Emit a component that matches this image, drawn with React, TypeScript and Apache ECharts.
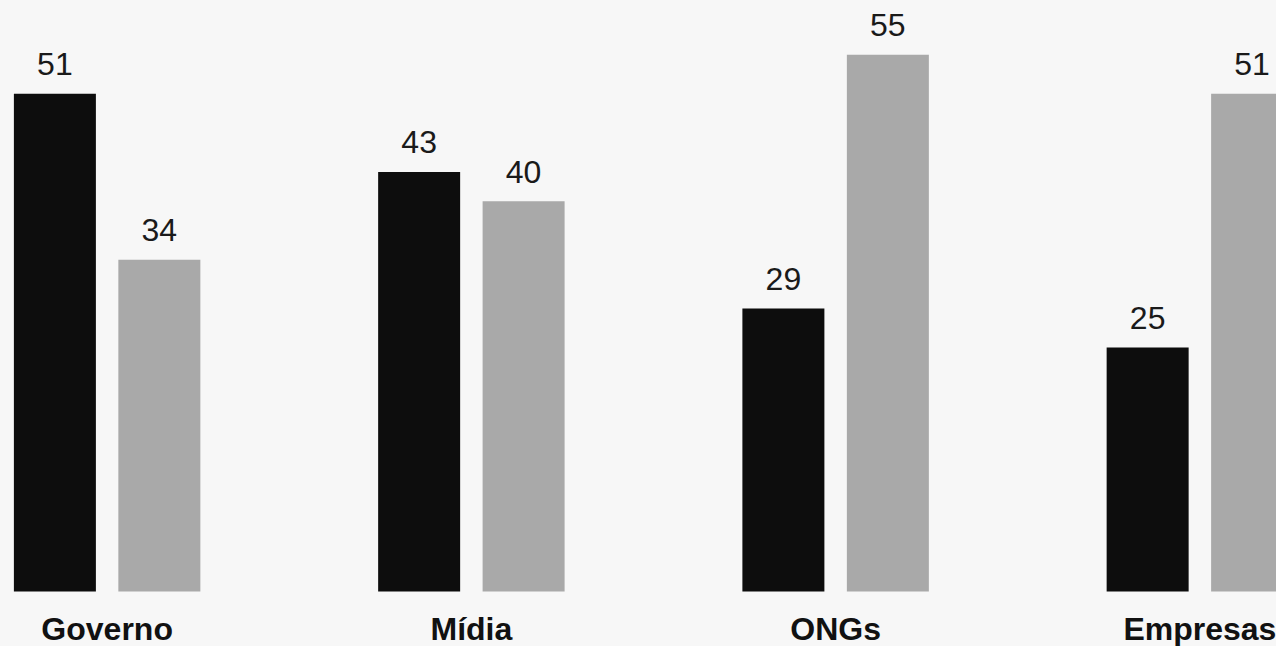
import React, { useEffect, useRef } from "react";
import * as echarts from "echarts";

const categories = ["Governo", "Mídia", "ONGs", "Empresas"];
const seriesA = [51, 43, 29, 25];
const seriesB = [34, 40, 55, 51];

export default function App() {
  const ref = useRef<HTMLDivElement>(null);
  useEffect(() => {
    if (!ref.current) return;
    const chart = echarts.init(ref.current, undefined, { renderer: "svg" });
    const labelStyle = {
      show: true,
      position: "top" as const,
      distance: 13.5,
      fontSize: 32,
      color: "#1a1a1a",
      fontFamily: "Liberation Sans, Arial, sans-serif",
    };
    chart.setOption({
      animation: false,
      backgroundColor: "#f7f7f7",
      grid: { left: 0, right: 0, top: 6, bottom: 54.5, containLabel: false },
      xAxis: {
        type: "category",
        data: categories,
        axisLine: { show: false },
        axisTick: { show: false },
        axisLabel: {
          fontSize: 32,
          fontWeight: "bold",
          color: "#111111",
          margin: 21,
          fontFamily: "Liberation Sans, Arial, sans-serif",
        },
      },
      yAxis: {
        type: "value",
        min: 0,
        max: 60,
        show: false,
        splitLine: { show: false },
      },
      series: [
        {
          type: "bar",
          data: seriesA,
          barWidth: 82,
          barGap: "27.4%",
          itemStyle: { color: "#0d0d0d" },
          label: labelStyle,
        },
        {
          type: "bar",
          data: seriesB,
          barWidth: 82,
          itemStyle: { color: "#a9a9a9" },
          label: labelStyle,
        },
      ],
    });
    return () => chart.dispose();
  }, []);
  return (
    <div style={{ position: "fixed", left: 0, top: 0, width: 1276, height: 646, overflow: "hidden", background: "#f7f7f7" }}>
      <div
        ref={ref}
        style={{ position: "absolute", left: -75, top: 0, width: 1457, height: 646 }}
      />
    </div>
  );
}
